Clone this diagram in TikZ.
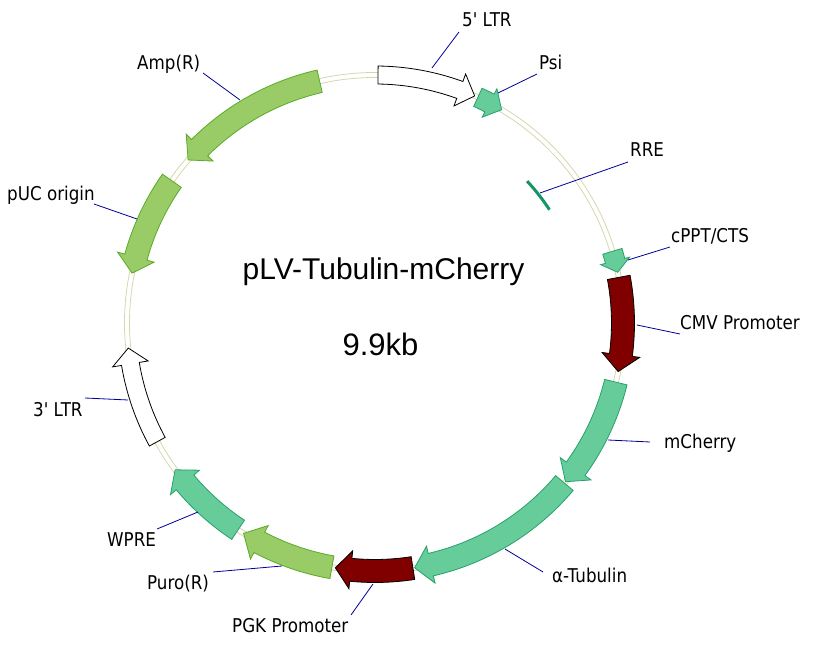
\documentclass[tikz,border=0pt]{standalone}
\usepackage{fontspec}
\newfontfamily\labfont[FakeStretch=0.88]{DejaVu Sans}
\newfontfamily\titlefont{Liberation Sans}
\definecolor{tealfill}{RGB}{102,204,153}
\definecolor{tealline}{RGB}{40,160,110}
\definecolor{greenfill}{RGB}{153,204,102}
\definecolor{greenline}{RGB}{90,170,40}
\definecolor{dkred}{RGB}{128,0,0}
\definecolor{bbcol}{RGB}{214,214,172}
\definecolor{leadblue}{RGB}{0,0,150}
\definecolor{rrecol}{RGB}{20,150,100}
\tikzset{
  bb/.style={draw=bbcol, line width=0.8pt},
  tealf/.style={fill=tealfill, draw=tealline, line width=0.8pt},
  greenf/.style={fill=greenfill, draw=greenline, line width=0.8pt},
  redf/.style={fill=dkred, draw=black, line width=0.8pt},
  whitef/.style={fill=white, draw=black, line width=0.8pt},
  rreline/.style={draw=rrecol, line width=3pt},
  leader/.style={draw=leadblue, line width=0.8pt},
  lab/.style={font=\labfont\fontsize{19}{22}\selectfont, anchor=base west, inner sep=0pt},
  ttl/.style={font=\titlefont\fontsize{30}{34}\selectfont, anchor=base, inner sep=0pt},
  szl/.style={font=\titlefont\fontsize{31}{35}\selectfont, anchor=base, inner sep=0pt},
}
% #1 style, #2 start angle, #3 head base angle, #4 tip angle, #5 half width, #6 head half width
\newcommand\plasfeat[6]{%
  \pgfmathsetmacro\ro{248+#5}\pgfmathsetmacro\ri{248-#5}%
  \pgfmathsetmacro\hro{248+#6}\pgfmathsetmacro\hri{248-#6}%
  \path[#1] (#2:\ro) arc[start angle=#2, end angle=#3, radius=\ro]
    -- (#3:\hro) -- (#4:248) -- (#3:\hri) -- (#3:\ri)
    arc[start angle=#3, end angle=#2, radius=\ri] -- cycle;}
\begin{document}
\begin{tikzpicture}[x=1pt,y=1pt]
\useasboundingbox (-375,-324) rectangle (440,323);
% backbone
\draw[bb] (0,0) circle[radius=245.5];
\draw[bb] (0,0) circle[radius=250.5];
% features
\plasfeat{whitef}{89.3}{70}{66.3}{9}{17}
\plasfeat{tealf}{65.5}{62.5}{59.3}{10}{16}
\draw[rreline] (33:208) arc[start angle=33, end angle=43, radius=208];
\plasfeat{tealf}{16.8}{14.5}{11.8}{10}{15}
\plasfeat{redf}{10.6}{-7.4}{-11.3}{11.5}{19}
\plasfeat{tealf}{-13.8}{-36}{-39.8}{11.5}{19}
\plasfeat{tealf}{-40.2}{-77}{-80.8}{11.5}{19}
\plasfeat{redf}{-81.2}{-95.6}{-99.2}{11.5}{19}
\plasfeat{greenf}{-100}{-117.8}{-122}{11.5}{19}
\plasfeat{tealf}{-123.5}{-140}{-143.7}{11.5}{19}
\plasfeat{whitef}{-151.4}{-170.5}{-174.2}{9}{18}
\plasfeat{greenf}{145}{164.6}{168.4}{11.5}{19}
\plasfeat{greenf}{102.9}{135}{138.9}{11.5}{19}
% title
\node[ttl] (title) at (8.5,43) {pLV-Tubulin-mCherry};
\node[szl] (size) at (5.5,-33) {9.9kb};
% labels
\node[lab] (lLTR5) at (87,296) {5' LTR};
\node[lab] (lPsi) at (164,253) {Psi};
\node[lab] (lRRE) at (255,166) {RRE};
\node[lab] (lcPPT) at (296,80) {cPPT/CTS};
\node[lab] (lCMV) at (305,-7) {CMV Promoter};
\node[lab] (lmCh) at (289,-126) {mCherry};
\node[lab] (lTub) at (177,-260) {α-Tubulin};
\node[lab] (lPGK) at (-143,-310) {PGK Promoter};
\node[lab] (lPuro) at (-228,-267) {Puro(R)};
\node[lab] (lWPRE) at (-268,-224) {WPRE};
\node[lab] (lLTR3) at (-342,-94) {3' LTR};
\node[lab] (lpUC) at (-368,122) {pUC origin};
\node[lab] (lAmp) at (-238,253) {Amp(R)};
% leader end points
\coordinate (fLTR5) at (57,255);  \coordinate (eLTR5) at (84,291);
\coordinate (fPsi) at (123,230);  \coordinate (ePsi) at (162,249);
\coordinate (fRRE) at (165,130);  \coordinate (eRRE) at (253,161);
\coordinate (fcPPT) at (253,63);  \coordinate (ecPPT) at (295,76);
\coordinate (fCMV) at (262,-2);   \coordinate (eCMV) at (305,-11);
\coordinate (fmCh) at (233,-117); \coordinate (emCh) at (275,-119);
\coordinate (fTub) at (130,-226); \coordinate (eTub) at (168,-249);
\coordinate (fPGK) at (-2,-261);  \coordinate (ePGK) at (-24,-292);
\coordinate (fPuro) at (-93,-243); \coordinate (ePuro) at (-162,-249);
\coordinate (fWPRE) at (-177,-189); \coordinate (eWPRE) at (-218,-206);
\coordinate (fLTR3) at (-247,-77); \coordinate (eLTR3) at (-290,-75);
\coordinate (fpUC) at (-238,104); \coordinate (epUC) at (-281,119);
\coordinate (fAmp) at (-135,223); \coordinate (eAmp) at (-172,250);
\foreach \n in {LTR5,Psi,RRE,cPPT,CMV,mCh,Tub,PGK,Puro,WPRE,LTR3,pUC,Amp}
  \draw[leader] (f\n) -- (e\n);
\end{tikzpicture}
\end{document}
